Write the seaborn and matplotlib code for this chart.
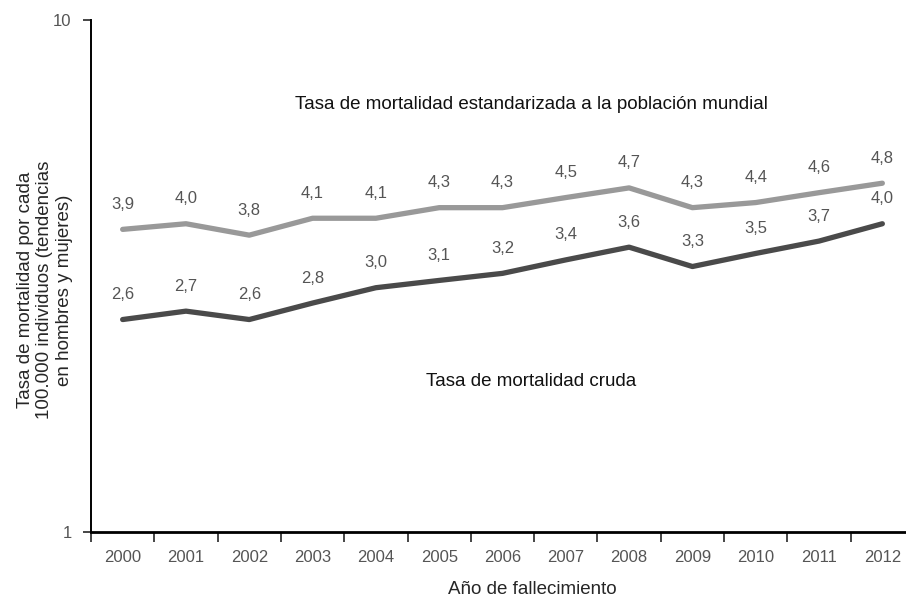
import matplotlib
matplotlib.use("Agg")
import matplotlib.pyplot as plt
import matplotlib.ticker as mticker
import pandas as pd
import seaborn as sns

anios = list(range(2000, 2013))
tasa_estandarizada = [3.9, 4.0, 3.8, 4.1, 4.1, 4.3, 4.3, 4.5, 4.7, 4.3, 4.4, 4.6, 4.8]
tasa_cruda = [2.6, 2.7, 2.6, 2.8, 3.0, 3.1, 3.2, 3.4, 3.6, 3.3, 3.5, 3.7, 4.0]

df = pd.DataFrame({
    "anio": anios * 2,
    "tasa": tasa_estandarizada + tasa_cruda,
    "serie": ["estandarizada"] * len(anios) + ["cruda"] * len(anios),
})

sns.set_style("white")
plt.rcParams["font.family"] = ["Liberation Sans", "DejaVu Sans"]

fig = plt.figure(figsize=(9.06, 5.99), dpi=100)
ax = fig.add_axes([91 / 906, 1 - 532 / 599, (914 - 91) / 906, (532 - 20) / 599])

sns.lineplot(data=df, x="anio", y="tasa", hue="serie",
             palette={"estandarizada": "#999999", "cruda": "#4a4a4a"},
             linewidth=3.8, legend=False, ax=ax)

ax.set_yscale("log")
ax.set_ylim(1, 10)
ax.set_xlim(1999.5, 2012.5)

# valores encima de cada punto
for serie in [tasa_estandarizada, tasa_cruda]:
    for a, v in zip(anios, serie):
        ax.annotate(f"{v:.1f}".replace(".", ","), (a, v), xytext=(0, 18),
                    textcoords="offset points", ha="center", va="center",
                    fontsize=12, color="#555555")

ax.text(2006.45, 6.85, "Tasa de mortalidad estandarizada a la población mundial",
        ha="center", va="center", fontsize=13.5, color="#111111")
ax.text(2006.45, 1.97, "Tasa de mortalidad cruda",
        ha="center", va="center", fontsize=13.5, color="#111111")

ax.yaxis.set_major_locator(mticker.FixedLocator([1, 10]))
ax.yaxis.set_major_formatter(mticker.FixedFormatter(["1", "10"]))
ax.yaxis.set_minor_locator(mticker.NullLocator())

ax.xaxis.set_major_locator(mticker.FixedLocator([a - 0.5 for a in anios] + [2012.5]))
ax.xaxis.set_major_formatter(mticker.NullFormatter())
ax.xaxis.set_minor_locator(mticker.FixedLocator(anios))
ax.xaxis.set_minor_formatter(mticker.FixedFormatter([str(a) for a in anios]))

ax.tick_params(axis="y", which="major", direction="out", length=6, width=1.2,
               left=True, labelsize=12, labelcolor="#555555", pad=8)
ax.tick_params(axis="x", which="major", direction="out", length=7, width=1.2,
               bottom=True)
ax.tick_params(axis="x", which="minor", length=0, labelsize=12,
               labelcolor="#555555", pad=13)

for s in ["top", "right"]:
    ax.spines[s].set_visible(False)
ax.spines["left"].set_color("black")
ax.spines["left"].set_linewidth(1.4)
ax.spines["bottom"].set_color("black")
ax.spines["bottom"].set_linewidth(2.0)

ax.set_xlabel("Año de fallecimiento", fontsize=13.5)
ax.set_ylabel("Tasa de mortalidad por cada\n100.000 individuos (tendencias\nen hombres y mujeres)",
              fontsize=13.5, linespacing=1.2)
ax.xaxis.set_label_coords((532 - 91) / 823, (532 - 590) / 512)
ax.yaxis.set_label_coords((45 - 91) / 823, (532 - 290) / 512)
ax.xaxis.label.set_va("center")
ax.yaxis.label.set_va("center")

fig.savefig("out.png", dpi=100)
